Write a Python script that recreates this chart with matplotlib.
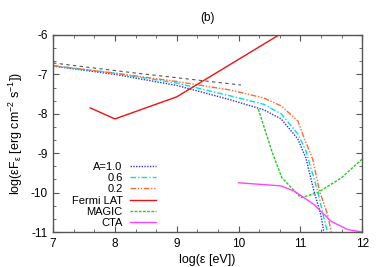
import matplotlib
matplotlib.use("Agg")
import matplotlib.pyplot as plt
from matplotlib.ticker import MultipleLocator, FormatStrFormatter

plt.rcParams['font.family'] = ['Liberation Sans', 'DejaVu Sans']
plt.rcParams['mathtext.default'] = 'regular'
plt.rcParams['axes.unicode_minus'] = False

# curves (log10 eV, log10 erg cm^-2 s^-1)
a10_x = [7, 8, 9, 9.88, 10.41, 10.69, 10.96, 11.09, 11.22, 11.33, 11.38]
a10_y = [-6.79, -7.0, -7.28, -7.65, -7.9, -8.13, -8.64, -9.12, -9.96, -10.55, -11.0]

a06_x = [7, 8, 9, 9.88, 10.41, 10.69, 10.96, 11.09, 11.28, 11.38, 11.44]
a06_y = [-6.78, -6.97, -7.22, -7.55, -7.76, -8.0, -8.51, -8.94, -9.96, -10.64, -11.0]

a02_x = [7, 8, 9, 9.88, 10.41, 10.69, 10.96, 11.06, 11.2, 11.31, 11.44, 11.5]
a02_y = [-6.78, -6.97, -7.18, -7.4, -7.6, -7.8, -8.18, -8.61, -9.15, -9.96, -10.55, -11.0]

ext_x = [7, 8.3, 10.04]
ext_y = [-6.71, -6.96, -7.27]

fermi_x = [7.6, 8, 9, 11]
fermi_y = [-7.85, -8.13, -7.57, -5.67]

magic_x = [10.32, 10.55, 10.7, 11.01, 11.28, 11.66, 12.0]
magic_y = [-7.88, -9.0, -9.62, -10.13, -10.0, -9.63, -9.15]

cta_x = [10.0, 10.69, 10.9, 11.22, 11.5, 11.77, 12.0]
cta_y = [-9.75, -9.83, -9.96, -10.3, -10.73, -10.94, -11.0]

fig = plt.figure(figsize=(3.82, 2.67), dpi=100)
ax = fig.add_axes([0.139, 0.131, 0.809, 0.738])

ax.plot(a10_x, a10_y, color='#3030f0', lw=1, ls=(0, (1, 1)), label='A=1.0')
ax.plot(a06_x, a06_y, color='#00e0e0', lw=1, ls=(0, (4, 1.5, 1, 1.5)), label='0.6')
ax.plot(a02_x, a02_y, color='#ff6a30', lw=1, ls=(0, (4, 1.2, 1, 1.2, 1, 1.2)), label='0.2')
ax.plot(fermi_x, fermi_y, color='#ee1111', lw=1, label='Fermi LAT')
ax.plot(magic_x, magic_y, color='#22cc22', lw=1, ls=(0, (2, 1)), label='MAGIC')
ax.plot(cta_x, cta_y, color='#ff44ff', lw=1, label='CTA')
ax.plot(ext_x, ext_y, color='#555555', lw=0.8, ls=(0, (3, 3)))

ax.set_xlim(7, 12)
ax.set_ylim(-11, -6)
ax.xaxis.set_major_locator(MultipleLocator(1))
ax.yaxis.set_major_locator(MultipleLocator(1))
ax.xaxis.set_minor_locator(MultipleLocator(1 / 3))
ax.yaxis.set_minor_locator(MultipleLocator(1 / 3))
ax.xaxis.set_major_formatter(FormatStrFormatter('%d'))
ax.yaxis.set_major_formatter(FormatStrFormatter('%d'))
ax.tick_params(which='both', direction='in', top=True, right=True,
               labelsize=8.5, color='#555555', pad=4)
ax.tick_params(which='major', length=4)
ax.tick_params(which='minor', length=2)
for s in ax.spines.values():
    s.set_color('#555555')
    s.set_linewidth(1)

ax.set_xlabel('log(ε [eV])', fontsize=9, labelpad=3)
ax.set_ylabel('log(εF$_ε$ [erg cm$^{-2}$ s$^{-1}$])', fontsize=9, labelpad=4)
ax.set_title('(b)', fontsize=8.5, pad=10)

ax.legend(loc='lower left', bbox_to_anchor=(0.038, -0.015), markerfirst=False,
          frameon=False, fontsize=8, handlelength=2.3, handletextpad=0.7,
          labelspacing=0.12, borderaxespad=0.2)

fig.savefig('out.png', dpi=100)
